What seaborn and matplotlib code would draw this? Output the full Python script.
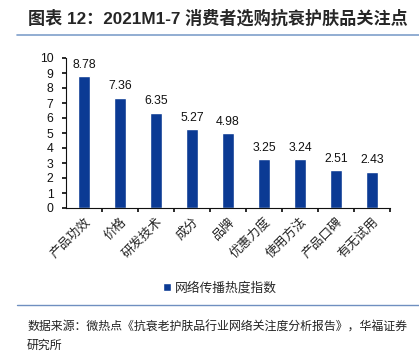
import matplotlib
matplotlib.use("Agg")
import matplotlib.pyplot as plt
import seaborn as sns
import pandas as pd
from matplotlib.lines import Line2D

categories = ["产品功效", "价格", "研发技术", "成分", "品牌", "优惠力度", "使用方法", "产品口碑", "有无试用"]
values = [8.78, 7.36, 6.35, 5.27, 4.98, 3.25, 3.24, 2.51, 2.43]
series_name = "网络传播热度指数"
title = "图表 12：2021M1-7 消费者选购抗衰护肤品关注点"
source = "数据来源：微热点《抗衰老护肤品行业网络关注度分析报告》，华福证券"
source2 = "研究所"

sns.set_theme(style="white")
plt.rcParams['font.family'] = ['Liberation Sans', 'Noto Sans CJK SC', 'DejaVu Sans']

W, H = 419, 352
fig = plt.figure(figsize=(W / 100, H / 100), dpi=100)
ax = fig.add_axes([66 / W, 1 - 208 / H, (390 - 66) / W, (208 - 58) / H])

df = pd.DataFrame({"cat": categories, "val": values, "series": series_name})
color = "#0B3A94"
sns.barplot(data=df, x="cat", y="val", hue="series", palette=[color], ax=ax,
            width=0.31, saturation=1, legend=True)

for i, v in enumerate(values):
    ax.text(i, v + 0.35, f"{v:.2f}", ha="center", va="bottom", fontsize=8.8, color="#111111")

ax.set_ylim(0, 10)
ax.set_xlim(-0.5, len(categories) - 0.5)
ax.set_yticks(range(0, 11))
ax.tick_params(axis="y", labelsize=8.8, length=3, direction="out", pad=6, left=True, colors="#111111")
ax.set_xticks([i + 0.5 for i in range(len(categories))], minor=False)
ax.set_xticklabels([])
ax.set_xticks(range(len(categories)), minor=True)
ax.set_xticklabels(categories, minor=True, rotation=45, ha="right", va="top",
                   rotation_mode="anchor", fontsize=9.2,
                   family=['Noto Sans CJK SC', 'DejaVu Sans'])
ax.tick_params(axis="x", which="major", length=3, direction="out", bottom=True, colors="#111111")
ax.tick_params(axis="x", which="minor", length=0, pad=5)
ax.set_xlabel("")
ax.set_ylabel("")
for s in ["top", "right"]:
    ax.spines[s].set_visible(False)
for s in ["left", "bottom"]:
    ax.spines[s].set_color("#111111")
    ax.spines[s].set_linewidth(0.8)
ax.set_facecolor("white")

leg = ax.legend(loc="center", bbox_to_anchor=(220 / W, 1 - 288 / H), bbox_transform=fig.transFigure,
                frameon=False, handlelength=0.6, handleheight=0.6, handletextpad=0.3,
                prop={'family': ['Noto Sans CJK SC', 'DejaVu Sans'], 'size': 9.2})

fig.text(28 / W, 1 - 18 / H, title, fontsize=12.3, fontweight="bold", ha="left", va="center",
         family=['Liberation Sans', 'Noto Sans CJK SC'])
fig.add_artist(Line2D([17 / W, 1], [1 - 35 / H, 1 - 35 / H], transform=fig.transFigure,
                      color="#7F9FCB", linewidth=1.2))
fig.add_artist(Line2D([17 / W, 1], [1 - 305 / H, 1 - 305 / H], transform=fig.transFigure,
                      color="#6F8FC0", linewidth=1.0))
fig.text(27 / W, 1 - 327 / H, source, fontsize=8.6, ha="left", va="center",
         family=['Noto Sans CJK SC', 'DejaVu Sans'], color="#222222")
fig.text(27 / W, 1 - 345 / H, source2, fontsize=8.6, ha="left", va="center",
         family=['Noto Sans CJK SC', 'DejaVu Sans'], color="#222222")

fig.savefig("out.png", dpi=100, facecolor="white")
